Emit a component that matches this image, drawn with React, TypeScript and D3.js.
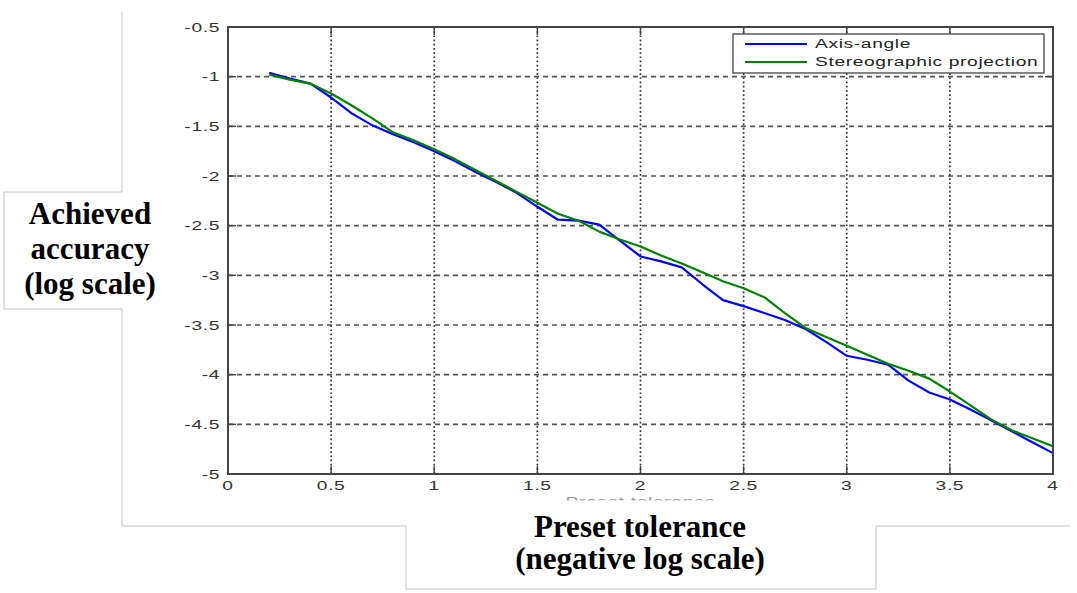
import React from "react";
import * as d3 from "d3";

const xValues = [0.2,0.3,0.4,0.5,0.6,0.7,0.8,0.9,1.0,1.1,1.2,1.3,1.4,1.5,1.6,1.7,1.8,1.9,2.0,2.1,2.2,2.3,2.4,2.5,2.6,2.7,2.8,2.9,3.0,3.1,3.2,3.3,3.4,3.5,3.6,3.7,3.8,3.9,4.0];
const axisAngle = [-0.96,-1.02,-1.07,-1.21,-1.37,-1.49,-1.58,-1.66,-1.75,-1.85,-1.96,-2.06,-2.17,-2.31,-2.44,-2.45,-2.49,-2.65,-2.81,-2.86,-2.92,-3.09,-3.25,-3.31,-3.38,-3.45,-3.54,-3.67,-3.81,-3.85,-3.90,-4.06,-4.18,-4.25,-4.35,-4.46,-4.57,-4.68,-4.79];
const stereographic = [-0.98,-1.03,-1.07,-1.17,-1.29,-1.42,-1.56,-1.64,-1.73,-1.83,-1.94,-2.05,-2.16,-2.27,-2.38,-2.45,-2.56,-2.64,-2.71,-2.80,-2.88,-2.97,-3.06,-3.13,-3.22,-3.38,-3.53,-3.62,-3.71,-3.80,-3.89,-3.96,-4.04,-4.17,-4.31,-4.45,-4.56,-4.64,-4.72];
const xTicks = [0, 0.5, 1, 1.5, 2, 2.5, 3, 3.5, 4];
const yTicks = [-0.5, -1, -1.5, -2, -2.5, -3, -3.5, -4, -4.5, -5];
const seriesNames = ["Axis-angle", "Stereographic projection"];
const seriesColors = ["#0000ff", "#008000"];
const yLabelLines = ["Achieved", "accuracy", "(log scale)"];
const xLabelLines = ["Preset tolerance", "(negative log scale)"];

const W = 1077, H = 593;
const L = 228, R = 1053, T = 27, B = 474;

export default function App() {
  const x = d3.scaleLinear().domain([0, 4]).range([L, R]);
  const y = d3.scaleLinear().domain([-5, -0.5]).range([B, T]);
  const line = d3.line<[number, number]>().x(d => x(d[0])).y(d => y(d[1]));
  const series = [axisAngle, stereographic].map(vals => xValues.map((xv, i) => [xv, vals[i]] as [number, number]));
  const tickFont = { fontFamily: "'Liberation Sans', Arial, sans-serif", fontSize: 12, letterSpacing: 0.4 };
  const serif = { fontFamily: "'Liberation Serif', 'Times New Roman', serif", fontWeight: 700, fontSize: 31 };
  const frame = "#c4c4c4";
  return (
    <svg width={W} height={H} style={{ position: "absolute", left: 0, top: 0, background: "#fff" }}>
      <defs>
        <clipPath id="cut"><rect x={0} y={0} width={W} height={500.5} /></clipPath>
      </defs>
      {/* grey frame outline */}
      <path d={`M122,12 V192 H4 V309 H122 V526 H406 V589 H876 V526 H1070`} fill="none" stroke={frame} strokeWidth={1} />
      {/* grid */}
      {yTicks.filter(t => t > -5 && t < -0.5).map(t => (
        <line key={"gy" + t} x1={L} x2={R} y1={y(t)} y2={y(t)} stroke="#555" strokeWidth={1.7} strokeDasharray="5,4" />
      ))}
      {xTicks.filter(t => t > 0 && t < 4).map(t => (
        <line key={"gx" + t} x1={x(t)} x2={x(t)} y1={T} y2={B} stroke="#333" strokeWidth={1.7} strokeDasharray="1.7,2.5" />
      ))}
      {/* ticks */}
      {xTicks.map(t => (
        <g key={"tx" + t}>
          <line x1={x(t)} x2={x(t)} y1={B} y2={B - 8} stroke="#444" strokeWidth={1.4} />
          <line x1={x(t)} x2={x(t)} y1={T} y2={T + 8} stroke="#444" strokeWidth={1.4} />
        </g>
      ))}
      {yTicks.map(t => (
        <g key={"ty" + t}>
          <line x1={L} x2={L + 8} y1={y(t)} y2={y(t)} stroke="#444" strokeWidth={1.4} />
          <line x1={R} x2={R - 8} y1={y(t)} y2={y(t)} stroke="#444" strokeWidth={1.4} />
        </g>
      ))}
      {/* data */}
      {series.map((s, i) => (
        <path key={"s" + i} d={line(s) || ""} fill="none" stroke={seriesColors[i]} strokeWidth={2.2} strokeLinejoin="round" />
      ))}
      {/* axes box */}
      <rect x={L} y={T} width={R - L} height={B - T} fill="none" stroke="#444" strokeWidth={2} />
      {/* tick labels */}
      {xTicks.map(t => (
        <text key={"lx" + t} transform={`translate(${x(t)},${B + 16}) scale(1.6,1)`} textAnchor="middle" fill="#333" style={tickFont}>{String(t)}</text>
      ))}
      {yTicks.map(t => (
        <text key={"ly" + t} transform={`translate(${L - 8},${y(t) + 4.5}) scale(1.6,1)`} textAnchor="end" fill="#333" style={tickFont}>{String(t)}</text>
      ))}
      {/* cropped original axis title */}
      <g clipPath="url(#cut)">
        <text transform={`translate(${x(2)},505.5) scale(1.6,1)`} textAnchor="middle" fill="#999" style={tickFont}>Preset tolerance</text>
      </g>
      {/* legend */}
      <rect x={733} y={34} width={311} height={39} fill="#fff" stroke="#444" strokeWidth={1.3} />
      {seriesNames.map((n, i) => (
        <g key={"lg" + i}>
          <line x1={745} x2={807} y1={44 + i * 18} y2={44 + i * 18} stroke={seriesColors[i]} strokeWidth={2.2} />
          <text transform={`translate(815,${44 + i * 18 + 4.3}) scale(1.6,1)`} fill="#222" style={tickFont}>{n}</text>
        </g>
      ))}
      {/* big labels */}
      {yLabelLines.map((s, i) => (
        <text key={"yl" + i} x={90} y={224 + i * 35} textAnchor="middle" fill="#000" style={serif}>{s}</text>
      ))}
      {xLabelLines.map((s, i) => (
        <text key={"xl" + i} x={640} y={537 + i * 32} textAnchor="middle" fill="#000" style={serif}>{s}</text>
      ))}
    </svg>
  );
}
